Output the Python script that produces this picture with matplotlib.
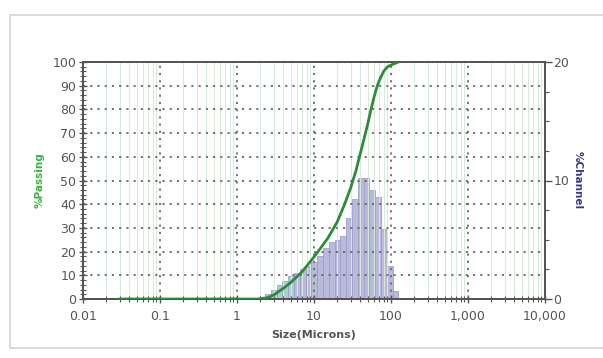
import numpy as np
import matplotlib
matplotlib.use("Agg")
import matplotlib.pyplot as plt
from matplotlib.patches import Rectangle
from matplotlib.ticker import FixedLocator, LogLocator, NullFormatter, MultipleLocator

# ---- data ----
curve_size = [0.03, 1, 2, 2.5, 3, 4, 5, 7, 10, 15, 20, 25, 30, 35, 40, 45, 50, 55, 60, 65, 70, 80, 90, 100, 120, 125]
curve_passing = [0, 0, 0, 0.6, 1.7, 4.5, 7, 11.5, 17.7, 25.5, 32.5, 40, 47, 54, 61.5, 68, 74, 80, 85, 89, 92, 96, 98, 98.7, 99.8, 100]

channel_edges = [1.945, 2.312, 2.75, 3.27, 3.89, 4.62, 5.5, 6.54, 7.78, 9.25, 11, 13.08,
                 15.56, 18.5, 22, 26.16, 31.11, 37, 44, 52.33, 62.23, 74, 88, 104.7, 124.5]
channel_pct = [0.15, 0.45, 0.8, 1.2, 1.5, 1.9, 2.2, 2.5, 2.8, 3.1, 3.6, 4.3,
               4.8, 5.0, 5.3, 6.8, 8.4, 10.2, 10.2, 9.2, 8.6, 5.9, 2.8, 0.7]
teal_count = 6

x_ticks = [0.01, 0.1, 1, 10, 100, 1000, 10000]
x_labels = ["0.01", "0.1", "1", "10", "100", "1,000", "10,000"]
left_ticks = list(range(0, 101, 10))
right_ticks = [0, 10, 20]

edges = np.array(channel_edges)

fig = plt.figure(figsize=(6.03, 3.58), dpi=100)
fig.patch.set_facecolor("white")
fig.add_artist(Rectangle((10/603, 1-348/358), 1.0, (348-15)/358, transform=fig.transFigure,
                         fill=False, edgecolor="#d4d4d4", linewidth=1.2))

ax = fig.add_axes([83/603, 1-299/358, (545-83)/603, (299-62)/358])
ax2 = ax.twinx()

# histogram on right axis
colors = ["#a9d2cc"] * teal_count + ["#b9b9dc"] * (len(channel_pct) - teal_count)
ax2.bar(edges[:-1], channel_pct, width=np.diff(edges), align="edge",
        color=colors, edgecolor="#a0a0cc", linewidth=0.6)
ax2.set_ylim(0, 20)
ax2.yaxis.set_major_locator(FixedLocator(right_ticks))
ax2.yaxis.set_minor_locator(MultipleLocator(2.5))

# curve on left axis, drawn above
ax.set_zorder(ax2.get_zorder() + 1)
ax.patch.set_visible(False)
ax.plot(curve_size, curve_passing, color="#2e8b3c", linewidth=2.0, zorder=5)

ax.set_xscale("log")
ax.set_xlim(0.01, 10000)
ax.set_ylim(0, 100)
ax.xaxis.set_major_locator(FixedLocator(x_ticks))
ax.set_xticklabels(x_labels)
ax.xaxis.set_minor_locator(LogLocator(base=10, subs=np.arange(2, 10), numticks=20))
ax.xaxis.set_minor_formatter(NullFormatter())
ax.yaxis.set_major_locator(FixedLocator(left_ticks))
ax.yaxis.set_minor_locator(MultipleLocator(2))

# grids
ax.grid(True, which="major", color="#6a6a6a", linestyle=(0, (1.2, 2.8)), linewidth=1.3)
ax.grid(True, which="minor", axis="x", color="#d6e9d6", linestyle="-", linewidth=0.7)
ax2.grid(False)

tick_color = "#555555"
ax.tick_params(axis="x", which="major", direction="inout", length=6, width=1,
               color=tick_color, labelsize=9, labelcolor="#555555", pad=5)
ax.tick_params(axis="y", which="major", direction="inout", length=6, width=1,
               color=tick_color, labelsize=9, labelcolor="#555555", pad=2)
ax.tick_params(axis="both", which="minor", direction="inout", length=4, width=0.8, color=tick_color)
ax2.tick_params(axis="y", which="major", direction="out", length=5, width=1,
                color=tick_color, labelsize=9, labelcolor="#555555", pad=1)
ax2.tick_params(axis="y", which="minor", direction="out", length=3, width=0.8, color=tick_color)

for a in (ax, ax2):
    for s in a.spines.values():
        s.set_color("#555555")
        s.set_linewidth(1.4)

ax.set_xlabel("Size(Microns)", fontsize=8, fontweight="bold", color="#555555", labelpad=5)
fig.text(40/603, 1-180/358, "%Passing", rotation=90, ha="center", va="center",
         fontsize=7.5, fontweight="bold", color="#3cb043")
fig.text(578/603, 1-180/358, "%Channel", rotation=270, ha="center", va="center",
         fontsize=7.5, fontweight="bold", color="#3a3a8c")

fig.savefig("out.png", dpi=100)
